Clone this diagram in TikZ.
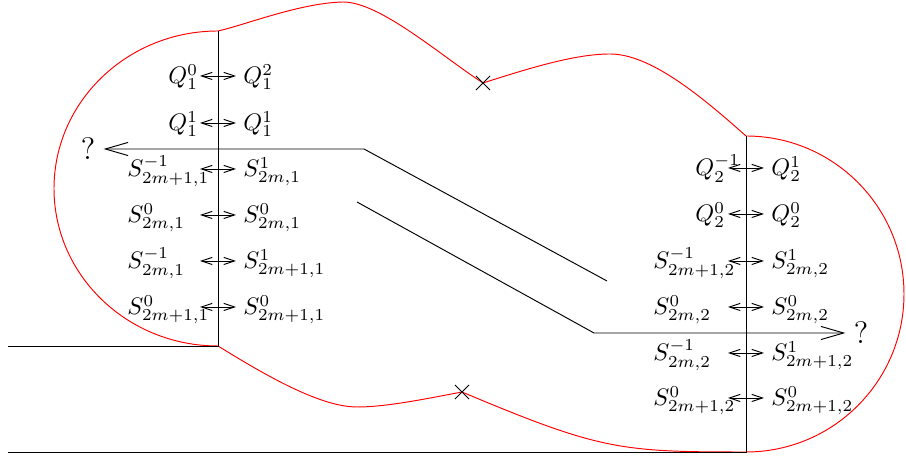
\documentclass[tikz,border=0pt]{standalone}
\usepackage{amsmath,amssymb}
\usepackage{tikz}
\usepackage{xcolor}
\usetikzlibrary{arrows.meta,shapes.misc}

\begin{document}
\begin{tikzpicture}[x=0.0147cm, y=-0.0147cm,
  pair/.style={{Straight Barb[length=4.5pt,width=3pt]}-{Straight Barb[length=4.5pt,width=3pt]}},
  exit/.style={-{Straight Barb[length=9.5pt,width=5.5pt]}},
  lab/.style={anchor=base west, inner sep=0pt},
  pole/.style={cross out, draw, minimum size=5.5pt, inner sep=0pt}]
\useasboundingbox (0,0) rectangle (906,457);
\coordinate (A) at (218,31);
\coordinate (B) at (218,346);
\coordinate (C) at (746,136);
\coordinate (D) at (746,452);
\coordinate (P) at (483,83);
\coordinate (R) at (462,392);
\draw[red] (A) .. controls (245,25) and (300,3) .. (343,2) .. controls (380,2) and (440,55) .. (P)
  .. controls (530,68) and (575,54) .. (610,54) .. controls (650,54) and (700,95) .. (C)
  arc[start angle=-90, end angle=90, radius=158]
  .. controls (620,452) and (600,450) .. (R)
  .. controls (420,400) and (385,407) .. (357,407) .. controls (320,407) and (265,375) .. (B)
  arc[start angle=90, end angle=270, x radius=164, y radius=157.5];
\draw (8,346) -- (B) -- (A);
\draw (8,452) -- (D) -- (C);
\node[pole] (p1) at (P) {};
\node[pole] (p2) at (R) {};
\node (lq) at (88,149) {\fontsize{13}{15}\selectfont ?};
\node (rq) at (861,333) {\fontsize{13}{15}\selectfont ?};
\coordinate (u1) at (607,281);
\coordinate (u2) at (364,149);
\coordinate (v1) at (357,202);
\coordinate (v2) at (594,333);
\draw[exit] (u1) -- (u2) -- (lq);
\draw[exit] (v1) -- (v2) -- (rq);
\foreach \x/\y/\d/\l/\r [count=\i] in {
  218/76/50/{Q_1^0}/{Q_1^2},
  218/123/50/{Q_1^1}/{Q_1^1},
  218/169/91/{S^{-1}_{2m+1,1}}/{S^1_{2m,1}},
  218/215/91/{S^0_{2m,1}}/{S^0_{2m,1}},
  218/261/91/{S^{-1}_{2m,1}}/{S^1_{2m+1,1}},
  218/307/91/{S^0_{2m+1,1}}/{S^0_{2m+1,1}},
  746/168/51/{Q_2^{-1}}/{Q_2^1},
  746/214/51/{Q_2^0}/{Q_2^0},
  746/261/93/{S^{-1}_{2m+1,2}}/{S^1_{2m,2}},
  746/307/93/{S^0_{2m,2}}/{S^0_{2m,2}},
  746/353/93/{S^{-1}_{2m,2}}/{S^1_{2m+1,2}},
  746/398/93/{S^0_{2m+1,2}}/{S^0_{2m+1,2}}} {
  \node[lab] (l\i) at (\x-\d,\y+8) {$\l$};
  \node[lab] (r\i) at (\x+25,\y+8) {$\r$};
  \coordinate (s\i) at (\x-18,\y);
  \coordinate (t\i) at (\x+18,\y);
  \draw[pair] (s\i) -- (t\i);
}
\end{tikzpicture}
\end{document}
